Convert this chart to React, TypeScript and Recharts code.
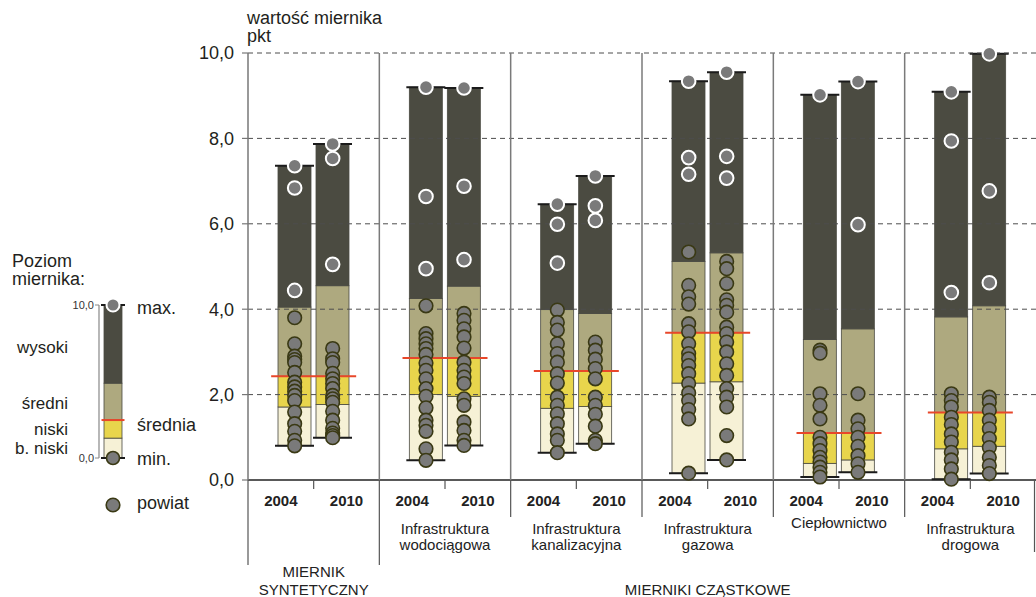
import React from 'react';
import { ComposedChart, Bar, Scatter, XAxis, YAxis, ReferenceLine } from 'recharts';

const FONT = '"Liberation Sans", Arial, Helvetica, sans-serif';

// ---------- data ----------
const groups = [
  'MIERNIK SYNTETYCZNY',
  'Infrastruktura wodociągowa',
  'Infrastruktura kanalizacyjna',
  'Infrastruktura gazowa',
  'Ciepłownictwo',
  'Infrastruktura drogowa',
];
const years = ['2004', '2010'];
const sections = [
  { lines: ['MIERNIK', 'SYNTETYCZNY'], first: 0, last: 0 },
  { lines: ['MIERNIKI CZĄSTKOWE'], first: 1, last: 5 },
];
const yTicks = [0, 2, 4, 6, 8, 10];
const gridTicks = [2, 4, 6, 8, 10];

// średnia (top of "niski")
const srednia = [2.43, 2.86, 2.55, 3.45, 1.1, 1.58];

const min2004 = [0.8, 0.46, 0.64, 0.16, 0.07, 0.02];
const bNiskiTop2004 = [1.71, 2.0, 1.68, 2.27, 0.39, 0.73];
const sredniTop2004 = [4.05, 4.25, 3.99, 5.12, 3.29, 3.82];
const max2004 = [7.36, 9.2, 6.46, 9.34, 9.02, 9.09];

const min2010 = [0.99, 0.81, 0.85, 0.47, 0.18, 0.15];
const bNiskiTop2010 = [1.77, 1.96, 1.72, 2.3, 0.47, 0.79];
const sredniTop2010 = [4.55, 4.54, 3.9, 5.32, 3.54, 4.08];
const max2010 = [7.87, 9.18, 7.12, 9.55, 9.33, 9.98];

// powiaty grodzkie (white outline)
const miasta2004 = [
  [7.36, 6.84, 4.44],
  [9.2, 6.64, 4.95],
  [6.46, 5.99, 5.08],
  [9.34, 7.55, 7.16],
  [9.02],
  [9.09, 7.94, 4.39],
];
const miasta2010 = [
  [7.87, 7.53, 5.05],
  [9.18, 6.88, 5.16],
  [7.12, 6.42, 6.08],
  [9.55, 7.58, 7.07],
  [9.33, 5.98],
  [9.98, 6.77, 4.62],
];
// powiaty ziemskie (dark outline)
const powiaty2004 = [
  [3.8, 3.19, 2.9, 2.82, 2.75, 2.52, 2.29, 2.18, 2.08, 1.98, 1.86, 1.59, 1.32, 1.14, 0.93, 0.8],
  [4.08, 3.43, 3.31, 3.19, 3.08, 2.94, 2.74, 2.57, 2.37, 2.14, 1.96, 1.69, 1.4, 1.28, 1.14, 0.73, 0.46],
  [3.98, 3.69, 3.51, 3.19, 2.96, 2.76, 2.49, 2.27, 1.94, 1.75, 1.55, 1.32, 1.08, 0.93, 0.64],
  [5.34, 4.56, 4.29, 4.12, 3.66, 3.47, 3.19, 2.96, 2.84, 2.68, 2.49, 2.26, 2.04, 1.86, 1.65, 1.43, 0.16],
  [3.04, 2.97, 2.02, 1.75, 1.43, 1.0, 0.85, 0.69, 0.53, 0.42, 0.3, 0.18, 0.07],
  [2.02, 1.86, 1.71, 1.47, 1.3, 1.08, 0.89, 0.65, 0.47, 0.26, 0.02],
];
const powiaty2010 = [
  [3.08, 2.84, 2.75, 2.5, 2.37, 2.26, 2.14, 1.98, 1.9, 1.82, 1.61, 1.4, 1.21, 1.1, 1.04, 0.99],
  [3.9, 3.74, 3.54, 3.35, 3.09, 2.76, 2.57, 2.41, 2.26, 1.9, 1.75, 1.36, 1.16, 0.93, 0.81],
  [3.23, 3.04, 2.83, 2.61, 2.37, 1.94, 1.75, 1.54, 1.26, 0.93, 0.85],
  [5.12, 4.95, 4.6, 4.22, 4.09, 3.93, 3.58, 3.43, 3.23, 3.0, 2.72, 2.45, 2.14, 1.94, 1.71, 1.04, 0.47],
  [2.02, 1.4, 1.2, 1.0, 0.79, 0.57, 0.38, 0.18],
  [1.94, 1.82, 1.63, 1.4, 1.2, 0.97, 0.76, 0.53, 0.34, 0.15],
];

// legend bar levels
const legendMin = 0;
const legendBNiskiTop = 1.3;
const legendSrednia = 2.48;
const legendSredniTop = 4.89;
const legendMax = 10;

// ---------- styles / layout ----------
const W = 1036;
const H = 597;
const PLOT_LEFT = 248;
const PLOT_TOP = 53;
const X_AXIS_H = 117;
const PLOT_H = H - X_AXIS_H - PLOT_TOP;
const Y_AXIS_W = 60;
const BAR_SIZE = 33;
const BAR_GAP = 5;
const SHIFT = (BAR_SIZE + BAR_GAP) / 2;
const TICK_SIZE = 9;
const TICK_MARGIN = 2;
const BAND_HALF = (W - PLOT_LEFT) / groups.length / 2;
const CAP = 3;
const DOT_R = 6.8;
const AVG_HALF = BAR_SIZE + BAR_GAP / 2 + 7;

const C_WYSOKI = '#4b4b41';
const C_SREDNI = '#aea97f';
const C_NISKI = '#e8d54c';
const C_BNISKI = '#f6f1d6';
const C_AVG = '#e8472a';
const SEG_STROKE = '#4a4a42';
const DOT_FILL = '#7a7a7a';
const DOT_STROKE = '#3a3914';

// ---------- tables built from arrays ----------
const rows = groups.map((name, i) => ({
  name,
  avg: srednia[i],
  base04: min2004[i],
  bn04: bNiskiTop2004[i] - min2004[i],
  ni04: srednia[i] - bNiskiTop2004[i],
  sr04: sredniTop2004[i] - srednia[i],
  wy04: max2004[i] - sredniTop2004[i],
  base10: min2010[i],
  bn10: bNiskiTop2010[i] - min2010[i],
  ni10: srednia[i] - bNiskiTop2010[i],
  sr10: sredniTop2010[i] - srednia[i],
  wy10: max2010[i] - sredniTop2010[i],
}));

const toPoints = (lists: number[][]) =>
  lists.flatMap((vals, i) => vals.map((v) => ({ name: groups[i], v })));

const legendRows = [
  {
    name: 'poziom',
    base: legendMin,
    bn: legendBNiskiTop - legendMin,
    ni: legendSrednia - legendBNiskiTop,
    sr: legendSredniTop - legendSrednia,
    wy: legendMax - legendSredniTop,
    avg: legendSrednia,
    max: legendMax,
    min: legendMin,
  },
];

const fmt = (v: number) => v.toFixed(1).replace('.', ',');

// ---------- shapes ----------
const emptyShape = () => <g />;

const segShape = (cap: 'top' | 'bottom' | null) => (p: any) => {
  const { x, y, width, height, fill } = p;
  if (x == null || y == null || width == null || height == null) return <g />;
  const h = Math.abs(height);
  const top = height < 0 ? y + height : y;
  return (
    <g>
      <rect x={x} y={top} width={width} height={h} fill={fill} stroke={SEG_STROKE} strokeWidth={0.8} />
      {cap === 'top' && (
        <line x1={x - CAP} x2={x + width + CAP} y1={top} y2={top} stroke="#1b1b1b" strokeWidth={2} />
      )}
      {cap === 'bottom' && (
        <line x1={x - CAP} x2={x + width + CAP} y1={top + h} y2={top + h} stroke="#1b1b1b" strokeWidth={2} />
      )}
    </g>
  );
};

const dotShape = (city: boolean, r: number) => (p: any) => {
  if (p.cx == null || p.cy == null) return <g />;
  return (
    <circle
      cx={p.cx}
      cy={p.cy}
      r={r}
      fill={DOT_FILL}
      stroke={city ? '#ffffff' : DOT_STROKE}
      strokeWidth={city ? 2 : 1.6}
    />
  );
};

const avgShape = (half: number) => (p: any) => {
  if (p.cx == null || p.cy == null) return <g />;
  return <line x1={p.cx - half} x2={p.cx + half} y1={p.cy} y2={p.cy} stroke={C_AVG} strokeWidth={2} />;
};

// ---------- x-axis tick (labels + group dividers) ----------
function GroupTick(props: any) {
  const { x, y, payload } = props;
  const index: number = props.index ?? payload?.index ?? 0;
  const half = payload && typeof payload.offset === 'number' && payload.offset > 0 ? payload.offset : BAND_HALF;
  const axisY = y - TICK_SIZE - TICK_MARGIN;
  const sec = sections.find((s) => index >= s.first && index <= s.last) || sections[0];
  const single = sec.first === sec.last;
  const isSectionStart = sec.first === index;
  const nameLines = single ? [] : groups[index].split(' ');
  const isMid = (sec.first + sec.last) / 2 === index;
  const isLast = index === groups.length - 1;
  const lineStyle = { stroke: '#555', strokeWidth: 1.2 };
  return (
    <g fontFamily={FONT}>
      {index > 0 && (
        <line x1={x - half} x2={x - half} y1={axisY - PLOT_H} y2={axisY} stroke="#7a7a7a" strokeWidth={1.5} />
      )}
      {years.map((yr, k) => (
        <text
          key={yr}
          x={x + (k === 0 ? -half / 2 : half / 2)}
          y={y + 15}
          textAnchor="middle"
          fontWeight="bold"
          fontSize={15}
          fill="#222"
        >
          {yr}
        </text>
      ))}
      {nameLines.map((ln, i) => (
        <text
          key={ln}
          x={x}
          y={y + (nameLines.length === 1 ? 37 : 43 + 16 * i)}
          textAnchor="middle"
          fontSize={15}
          fill="#222"
        >
          {ln}
        </text>
      ))}
      {isMid &&
        sec.lines.map((ln, i) => (
          <text
            key={ln}
            x={x}
            y={y + 104 - 18 * (sec.lines.length - 1 - i)}
            textAnchor="middle"
            fontSize={15}
            fill="#222"
          >
            {ln}
          </text>
        ))}
      <line x1={x - half} x2={x - half} y1={axisY} y2={axisY + (isSectionStart ? 85 : 37)} {...lineStyle} />
      {isLast && <line x1={x + half - 1.5} x2={x + half - 1.5} y1={axisY} y2={axisY + 72} {...lineStyle} />}
    </g>
  );
}

// ---------- overlay text ----------
const T = (p: { x: number; y: number; s?: number; a?: 'start' | 'end' | 'middle'; children: React.ReactNode }) => (
  <text x={p.x} y={p.y} fontSize={p.s ?? 18} textAnchor={p.a ?? 'start'} fill="#231f20" fontFamily={FONT}>
    {p.children}
  </text>
);

export default function App() {
  const yearKeys = ['04', '10'];
  return (
    <div style={{ position: 'absolute', left: 0, top: 0, width: W, height: H, background: '#fff', overflow: 'hidden' }}>
      <div style={{ position: 'absolute', left: 0, top: 0 }}>
        <ComposedChart
          width={W}
          height={H}
          data={rows}
          barSize={BAR_SIZE}
          barGap={BAR_GAP}
          margin={{ top: PLOT_TOP, right: 0, bottom: 0, left: PLOT_LEFT - Y_AXIS_W }}
        >
          <XAxis
            xAxisId="g"
            dataKey="name"
            type="category"
            height={X_AXIS_H}
            interval={0}
            tickSize={TICK_SIZE}
            tickMargin={TICK_MARGIN}
            tick={<GroupTick />}
            axisLine={{ stroke: '#222', strokeWidth: 1.5 }}
            tickLine={{ stroke: '#555', strokeWidth: 1.2 }}
          />
          <XAxis
            xAxisId="b"
            type="number"
            domain={[0, groups.length]}
            allowDataOverflow
            hide
            height={0}
          />
          <XAxis
            xAxisId="p04"
            dataKey="name"
            type="category"
            allowDuplicatedCategory={false}
            hide
            height={0}
            padding={{ left: -SHIFT, right: SHIFT }}
          />
          <XAxis
            xAxisId="p10"
            dataKey="name"
            type="category"
            allowDuplicatedCategory={false}
            hide
            height={0}
            padding={{ left: SHIFT, right: -SHIFT }}
          />
          <YAxis
            domain={[0, 10]}
            ticks={yTicks}
            interval={0}
            width={Y_AXIS_W}
            tickSize={6}
            tickMargin={8}
            tickFormatter={fmt}
            tick={{ fontSize: 18, fill: '#231f20', fontFamily: FONT }}
            axisLine={{ stroke: '#777', strokeWidth: 1.5 }}
            tickLine={{ stroke: '#777', strokeWidth: 1.2 }}
          />
          {yearKeys.map((k) => [
            <Bar key={'base' + k} xAxisId="g" stackId={'s20' + k} dataKey={'base' + k} fill="none" shape={emptyShape} isAnimationActive={false} />,
            <Bar key={'bn' + k} xAxisId="g" stackId={'s20' + k} dataKey={'bn' + k} fill={C_BNISKI} shape={segShape('bottom')} isAnimationActive={false} />,
            <Bar key={'ni' + k} xAxisId="g" stackId={'s20' + k} dataKey={'ni' + k} fill={C_NISKI} shape={segShape(null)} isAnimationActive={false} />,
            <Bar key={'sr' + k} xAxisId="g" stackId={'s20' + k} dataKey={'sr' + k} fill={C_SREDNI} shape={segShape(null)} isAnimationActive={false} />,
            <Bar key={'wy' + k} xAxisId="g" stackId={'s20' + k} dataKey={'wy' + k} fill={C_WYSOKI} shape={segShape('top')} isAnimationActive={false} />,
          ])}
          {gridTicks.map((t) => (
            <ReferenceLine key={'gr' + t} xAxisId="b" y={t} stroke="#4d4d4d" strokeWidth={1} strokeDasharray="5 4" />
          ))}
          <Scatter xAxisId="g" dataKey="avg" shape={avgShape(AVG_HALF)} isAnimationActive={false} />
          <Scatter xAxisId="p04" data={toPoints(powiaty2004)} dataKey="v" shape={dotShape(false, DOT_R)} isAnimationActive={false} />
          <Scatter xAxisId="p10" data={toPoints(powiaty2010)} dataKey="v" shape={dotShape(false, DOT_R)} isAnimationActive={false} />
          <Scatter xAxisId="p04" data={toPoints(miasta2004)} dataKey="v" shape={dotShape(true, DOT_R)} isAnimationActive={false} />
          <Scatter xAxisId="p10" data={toPoints(miasta2010)} dataKey="v" shape={dotShape(true, DOT_R)} isAnimationActive={false} />
        </ComposedChart>
      </div>

      <div style={{ position: 'absolute', left: 0, top: 290 }}>
        <ComposedChart
          width={127}
          height={180}
          data={legendRows}
          barSize={18}
          margin={{ top: 15, right: 0, bottom: 12, left: 60 }}
        >
          <XAxis dataKey="name" type="category" hide height={0} />
          <YAxis
            domain={[0, 10]}
            ticks={[0, 10]}
            interval={0}
            width={39}
            tickSize={4}
            tickMargin={1}
            tickFormatter={fmt}
            tick={{ fontSize: 11, fill: '#333', fontFamily: FONT }}
            axisLine={{ stroke: '#888', strokeWidth: 1.2 }}
            tickLine={{ stroke: '#888' }}
          />
          <Bar stackId="l" dataKey="base" fill="none" shape={emptyShape} isAnimationActive={false} />
          <Bar stackId="l" dataKey="bn" fill={C_BNISKI} shape={segShape('bottom')} isAnimationActive={false} />
          <Bar stackId="l" dataKey="ni" fill={C_NISKI} shape={segShape(null)} isAnimationActive={false} />
          <Bar stackId="l" dataKey="sr" fill={C_SREDNI} shape={segShape(null)} isAnimationActive={false} />
          <Bar stackId="l" dataKey="wy" fill={C_WYSOKI} shape={segShape('top')} isAnimationActive={false} />
          <Scatter dataKey="avg" shape={avgShape(11.5)} isAnimationActive={false} />
          <Scatter dataKey="min" shape={dotShape(false, 6.5)} isAnimationActive={false} />
          <Scatter dataKey="max" shape={dotShape(true, 6.5)} isAnimationActive={false} />
        </ComposedChart>
      </div>

      <svg width={W} height={H} style={{ position: 'absolute', left: 0, top: 0, pointerEvents: 'none' }}>
        <T x={247} y={24}>wartość miernika</T>
        <T x={247} y={42}>pkt</T>
        <T x={12} y={266.5}>Poziom</T>
        <T x={12} y={285}>miernika:</T>
        <T x={68} y={353} a="end" s={17}>wysoki</T>
        <T x={68} y={409} a="end" s={17}>średni</T>
        <T x={68} y={435} a="end" s={17}>niski</T>
        <T x={68} y={454} a="end" s={17}>b. niski</T>
        <T x={137} y={314}>max.</T>
        <T x={137} y={430.5}>średnia</T>
        <T x={137} y={465}>min.</T>
        <circle cx={113} cy={505} r={6.8} fill={DOT_FILL} stroke={DOT_STROKE} strokeWidth={1.6} />
        <T x={137} y={509}>powiat</T>
      </svg>
    </div>
  );
}
